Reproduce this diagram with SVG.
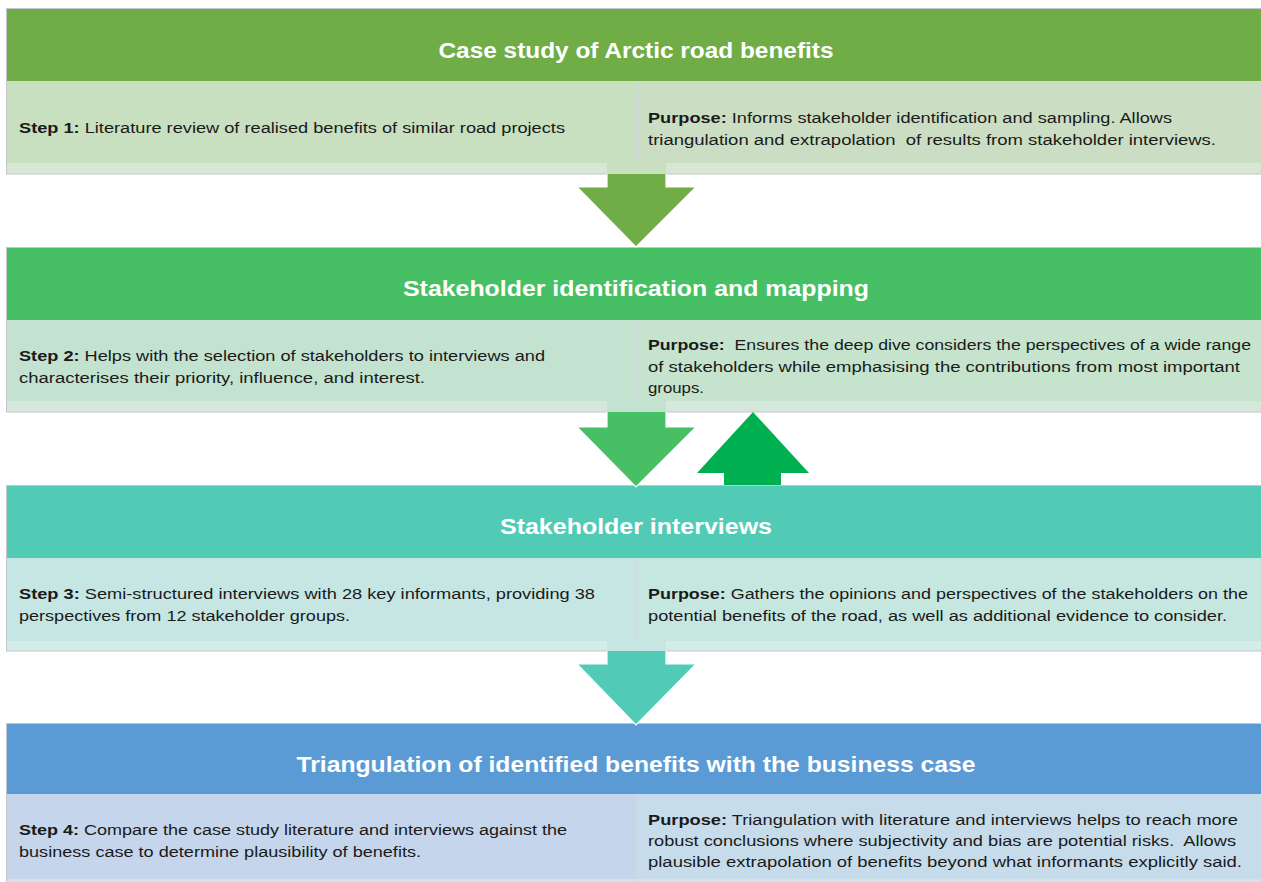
<svg xmlns="http://www.w3.org/2000/svg" width="1261" height="882" viewBox="0 0 1261 882">
<style>
.hd{font-family:"Liberation Sans",Arial,sans-serif;font-weight:bold;font-size:22px;fill:#ffffff;text-anchor:middle}
.tx{font-family:"Liberation Sans",Arial,sans-serif;font-size:15.5px;fill:#1a1a1a;white-space:pre}
.b{font-weight:bold}
.frame{fill:none;stroke:#c3c6ce;stroke-width:1}
.div{stroke:#d0d8e2;stroke-width:1}
.arr{stroke:#ffffff;stroke-width:1.2;stroke-linejoin:miter}
</style>
<rect width="1261" height="882" fill="#ffffff"/>

<g id="section1">
  <rect x="7" y="8" width="1254" height="73" fill="#70ad47"/>
  <rect x="7" y="81" width="629" height="93" fill="#c8dfc0"/>
  <rect x="636" y="81" width="625" height="93" fill="#cbdec3"/>
  <rect x="7" y="163" width="600" height="11" fill="#d7e7d1"/>
  <rect x="666" y="163" width="595" height="11" fill="#d7e7d1"/>
  <line class="div" x1="636.5" y1="81" x2="636.5" y2="174"/>
  <rect class="frame" x="6.5" y="8.5" width="1256" height="165.5"/>
  <text class="hd" x="636" y="58" textLength="395" lengthAdjust="spacingAndGlyphs">Case study of Arctic road benefits</text>
  <text class="tx" x="19" y="133" textLength="546" lengthAdjust="spacingAndGlyphs"><tspan class="b">Step 1:</tspan> Literature review of realised benefits of similar road projects</text>
  <text class="tx" x="648" y="123" textLength="524" lengthAdjust="spacingAndGlyphs"><tspan class="b">Purpose:</tspan> Informs stakeholder identification and sampling. Allows</text>
  <text class="tx" x="648" y="145" textLength="568" lengthAdjust="spacingAndGlyphs">triangulation and extrapolation  of results from stakeholder interviews.</text>
</g>

<g id="section2">
  <rect x="7" y="247" width="1254" height="73" fill="#47bf64"/>
  <rect x="7" y="320" width="629" height="92" fill="#c3e3d0"/>
  <rect x="636" y="320" width="625" height="92" fill="#c5e3cd"/>
  <rect x="7" y="401" width="600" height="11" fill="#d4e9dc"/>
  <rect x="666" y="401" width="595" height="11" fill="#d4e9dc"/>
  <line class="div" x1="636.5" y1="320" x2="636.5" y2="412"/>
  <rect class="frame" x="6.5" y="247.5" width="1256" height="164.5"/>
  <text class="hd" x="636" y="296" textLength="466" lengthAdjust="spacingAndGlyphs">Stakeholder identification and mapping</text>
  <text class="tx" x="19" y="361" textLength="526" lengthAdjust="spacingAndGlyphs"><tspan class="b">Step 2:</tspan> Helps with the selection of stakeholders to interviews and</text>
  <text class="tx" x="19" y="383" textLength="406" lengthAdjust="spacingAndGlyphs">characterises their priority, influence, and interest.</text>
  <text class="tx" x="648" y="350" textLength="603" lengthAdjust="spacingAndGlyphs"><tspan class="b">Purpose:</tspan>  Ensures the deep dive considers the perspectives of a wide range</text>
  <text class="tx" x="648" y="372" textLength="592" lengthAdjust="spacingAndGlyphs">of stakeholders while emphasising the contributions from most important</text>
  <text class="tx" x="648" y="393" textLength="56" lengthAdjust="spacingAndGlyphs">groups.</text>
</g>

<g id="section3">
  <rect x="7" y="485" width="1254" height="73" fill="#52cbb6"/>
  <rect x="7" y="558" width="629" height="93" fill="#c5e6e3"/>
  <rect x="636" y="558" width="625" height="93" fill="#c6e7e0"/>
  <rect x="7" y="641" width="600" height="10" fill="#d4ecea"/>
  <rect x="666" y="641" width="595" height="10" fill="#d4ecea"/>
  <line class="div" x1="636.5" y1="558" x2="636.5" y2="651"/>
  <rect class="frame" x="6.5" y="485.5" width="1256" height="165.5"/>
  <text class="hd" x="636" y="534" textLength="272" lengthAdjust="spacingAndGlyphs">Stakeholder interviews</text>
  <text class="tx" x="19" y="599" textLength="576" lengthAdjust="spacingAndGlyphs"><tspan class="b">Step 3:</tspan> Semi-structured interviews with 28 key informants, providing 38</text>
  <text class="tx" x="19" y="621" textLength="331" lengthAdjust="spacingAndGlyphs">perspectives from 12 stakeholder groups.</text>
  <text class="tx" x="648" y="599" textLength="600" lengthAdjust="spacingAndGlyphs"><tspan class="b">Purpose:</tspan> Gathers the opinions and perspectives of the stakeholders on the</text>
  <text class="tx" x="648" y="621" textLength="579" lengthAdjust="spacingAndGlyphs">potential benefits of the road, as well as additional evidence to consider.</text>
</g>

<g id="section4">
  <rect x="7" y="723" width="1254" height="71" fill="#5b9bd5"/>
  <rect x="7" y="794" width="629" height="88" fill="#c5d5eb"/>
  <rect x="636" y="794" width="625" height="88" fill="#c7dceb"/>
  <rect x="7" y="879" width="1254" height="3" fill="#d3e1ef"/>
  <line class="div" x1="636.5" y1="794" x2="636.5" y2="882"/>
  <rect class="frame" x="6.5" y="723.5" width="1256" height="160"/>
  <text class="hd" x="636" y="772" textLength="679" lengthAdjust="spacingAndGlyphs">Triangulation of identified benefits with the business case</text>
  <text class="tx" x="19" y="835" textLength="548" lengthAdjust="spacingAndGlyphs"><tspan class="b">Step 4:</tspan> Compare the case study literature and interviews against the</text>
  <text class="tx" x="19" y="857" textLength="402" lengthAdjust="spacingAndGlyphs">business case to determine plausibility of benefits.</text>
  <text class="tx" x="648" y="825" textLength="590" lengthAdjust="spacingAndGlyphs"><tspan class="b">Purpose:</tspan> Triangulation with literature and interviews helps to reach more</text>
  <text class="tx" x="648" y="846" textLength="588" lengthAdjust="spacingAndGlyphs">robust conclusions where subjectivity and bias are potential risks.  Allows</text>
  <text class="tx" x="648" y="867" textLength="594" lengthAdjust="spacingAndGlyphs">plausible extrapolation of benefits beyond what informants explicitly said.</text>
</g>

<g id="connectors">
  <rect x="607" y="163" width="59" height="11" fill="#c8dfc0"/>
  <path class="arr" fill="#70ad47" d="M607,174 L607,187 L577,187 L636,247 L696,187 L666,187 L666,174"/>
  <rect x="607" y="401" width="59" height="11" fill="#c3e3d0"/>
  <path class="arr" fill="#47bf64" d="M607,412 L607,427 L577,427 L636,487 L696,427 L666,427 L666,412"/>
  <path fill="#00b050" d="M724,485 L724,473 L697,473 L753,412 L809,473 L781,473 L781,485 Z"/>
  <rect x="607" y="641" width="59" height="10" fill="#c5e6e3"/>
  <path class="arr" fill="#52cbb6" d="M607,651 L607,664 L577,664 L636,725 L696,664 L666,664 L666,651"/>
</g>
</svg>
